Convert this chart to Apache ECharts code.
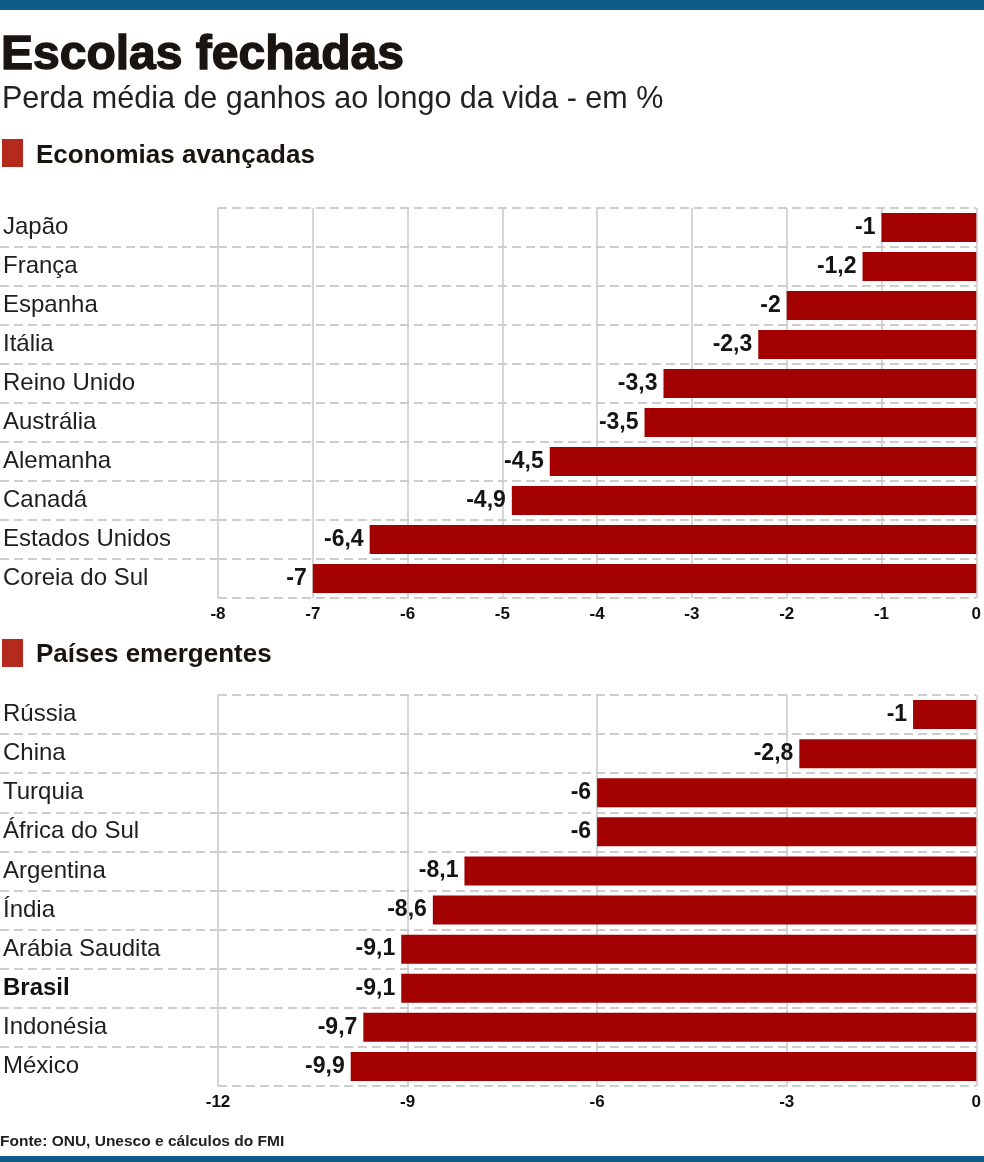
<!DOCTYPE html>
<html>
<head>
<meta charset="utf-8">
<script src="https://cdn.jsdelivr.net/npm/echarts@6/dist/echarts.min.js"></script>
<style>
html,body{margin:0;padding:0;background:#fff;}
#chart{width:984px;height:1162px;}
</style>
</head>
<body>
<div id="chart"></div>
<script>
// ---- data ----
var advCategories = ['Japão','França','Espanha','Itália','Reino Unido','Austrália','Alemanha','Canadá','Estados Unidos','Coreia do Sul'];
var advValues = [-1, -1.2, -2, -2.3, -3.3, -3.5, -4.5, -4.9, -6.4, -7];
var advTicks = {min: -8, max: 0, interval: 1};

var emCategories = ['Rússia','China','Turquia','África do Sul','Argentina','Índia','Arábia Saudita','Brasil','Indonésia','México'];
var emValues = [-1, -2.8, -6, -6, -8.1, -8.6, -9.1, -9.1, -9.7, -9.9];
var emTicks = {min: -12, max: 0, interval: 3};

var highlightCategory = 'Brasil';

var titleText = 'Escolas fechadas';
var subtitleText = 'Perda média de ganhos ao longo da vida - em %';
var section1 = 'Economias avançadas';
var section2 = 'Países emergentes';
var sourceText = 'Fonte: ONU, Unesco e cálculos do FMI';

// ---- styles ----
var FONT = '"Liberation Sans", Arial, sans-serif';
var BAR = '#a30000';
var GRIDC = '#c9c9c9';
var DASHC = '#bdbdbd';
var BLUE = '#0d5b88';
var SQUARE = '#b42a1c';

var chart = echarts.init(document.getElementById('chart'), null, {renderer: 'canvas'});

var grids = [
  {left: 217, right: 6, top: 208, height: 390},
  {left: 217, right: 6, top: 695, height: 391},
  {left: 0, width: 217, top: 208, height: 390},
  {left: 0, width: 217, top: 695, height: 391}
];

function fmt(v) { return String(v).replace('.', ','); }

function valueAxis(gridIndex, t) {
  return {
    type: 'value', gridIndex: gridIndex, min: t.min, max: t.max, interval: t.interval,
    axisLine: {show: false}, axisTick: {show: false},
    axisLabel: {show: true, margin: 8, fontFamily: FONT, fontWeight: 'bold', fontSize: 17, color: '#111'},
    splitLine: {show: true, lineStyle: {color: GRIDC, width: 1.5, type: 'solid'}}
  };
}
function catAxis(gridIndex, cats) {
  return {
    type: 'category', gridIndex: gridIndex, data: cats, inverse: true,
    axisLine: {show: false}, axisTick: {show: false},
    axisLabel: {
      show: true, align: 'left', margin: 215, fontFamily: FONT, fontSize: 24, color: '#1e1e1e',
      formatter: function (v) { return v === highlightCategory ? '{b|' + v + '}' : v; },
      rich: {b: {fontFamily: FONT, fontSize: 24, fontWeight: 'bold', color: '#111'}}
    },
    splitLine: {show: true, lineStyle: {color: DASHC, width: 1.5, type: [9, 5]}}
  };
}
function helperY(gridIndex, n) {
  return {
    type: 'value', gridIndex: gridIndex, min: 0, max: n, interval: 1, inverse: true,
    axisLine: {show: false}, axisTick: {show: false}, axisLabel: {show: false},
    splitLine: {show: true, showMinLine: false, showMaxLine: false,
      lineStyle: {color: DASHC, width: 1.5, type: [9, 5]}}
  };
}
function helperX(gridIndex) {
  return {
    type: 'value', gridIndex: gridIndex, min: 0, max: 1, show: false,
    splitLine: {show: false}
  };
}
function barSeries(idx, vals) {
  return {
    type: 'bar', xAxisIndex: idx, yAxisIndex: idx, data: vals,
    barWidth: 29,
    itemStyle: {color: BAR},
    label: {
      show: true, position: 'left', distance: 6,
      fontFamily: FONT, fontWeight: 'bold', fontSize: 23, color: '#141414',
      formatter: function (p) { return fmt(p.value); }
    },
    silent: true, animation: false
  };
}

var option = {
  animation: false,
  backgroundColor: '#ffffff',
  grid: grids,
  xAxis: [valueAxis(0, advTicks), valueAxis(1, emTicks), helperX(2), helperX(3)],
  yAxis: [catAxis(0, advCategories), catAxis(1, emCategories), helperY(2, advCategories.length), helperY(3, emCategories.length)],
  series: [
    barSeries(0, advValues),
    barSeries(1, emValues),
    {type: 'line', xAxisIndex: 2, yAxisIndex: 2, data: [], silent: true},
    {type: 'line', xAxisIndex: 3, yAxisIndex: 3, data: [], silent: true}
  ],
  graphic: [
    {type: 'rect', shape: {x: 0, y: 0, width: 984, height: 10}, style: {fill: BLUE}},
    {type: 'rect', shape: {x: 0, y: 1156, width: 984, height: 6}, style: {fill: BLUE}},
    {type: 'text', x: 1, y: 56, style: {text: titleText, font: 'bold 48px ' + FONT, fill: '#1a1410', stroke: '#1a1410', lineWidth: 1.4, verticalAlign: 'middle'}},
    {type: 'text', x: 2, y: 100, style: {text: subtitleText, font: '30.5px ' + FONT, fill: '#222', verticalAlign: 'middle'}},
    {type: 'rect', shape: {x: 2, y: 139, width: 21, height: 28}, style: {fill: SQUARE}},
    {type: 'text', x: 36, y: 156, style: {text: section1, font: 'bold 26px ' + FONT, fill: '#1a1410', verticalAlign: 'middle'}},
    {type: 'rect', shape: {x: 2, y: 639, width: 21, height: 28}, style: {fill: SQUARE}},
    {type: 'text', x: 36, y: 655, style: {text: section2, font: 'bold 26px ' + FONT, fill: '#1a1410', verticalAlign: 'middle'}},
    {type: 'text', x: 0, y: 1142, style: {text: sourceText, font: 'bold 15.5px ' + FONT, fill: '#222', verticalAlign: 'middle'}}
  ]
};
chart.setOption(option);
</script>
</body>
</html>
